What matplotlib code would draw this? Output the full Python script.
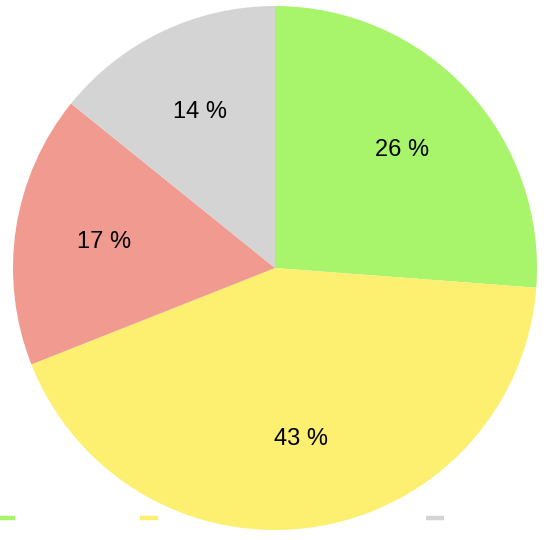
import matplotlib.pyplot as plt
from matplotlib.lines import Line2D

plt.rcParams['font.family'] = ['Liberation Sans', 'DejaVu Sans']

# Valores de cada fatia (em %)
categories = ['A', 'B', 'C', 'D']
values = [26.2, 42.8, 16.8, 14.2]
colors = ['#a8f56c', '#fdef70', '#f09a90', '#d4d4d4']

fig = plt.figure(figsize=(5.48, 5.40), dpi=100)
ax = fig.add_axes([13 / 548, 10 / 540, 524 / 548, 524 / 540])

wedges, texts, autotexts = ax.pie(
    values, colors=colors, startangle=90, counterclock=False,
    autopct='%.0f %%', pctdistance=0.66, radius=1,
    wedgeprops={'linewidth': 0},
    textprops={'fontsize': 17, 'color': 'black'})
ax.set_xlim(-1, 1)
ax.set_ylim(-1, 1)
ax.set_aspect('equal')

# Legenda sem texto, atrás da pizza
handles = [Line2D([], [], color=c, linewidth=3.2, solid_capstyle='butt')
           for c in colors]
leg = ax.legend(handles, ['' for _ in categories], ncol=4, frameon=False,
                loc='center left', bbox_to_anchor=(-3 / 548, 21 / 540),
                bbox_transform=fig.transFigure, fontsize=10,
                handlelength=1.3, handletextpad=0, columnspacing=9.0,
                borderpad=0, borderaxespad=0)
leg.set_zorder(0)

fig.savefig('out.png', dpi=100)
